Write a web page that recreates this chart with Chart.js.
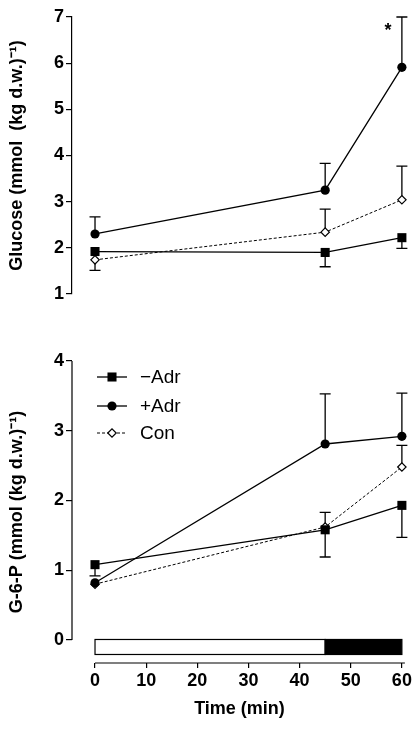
<!DOCTYPE html>
<html>
<head>
<meta charset="utf-8">
<script src="https://cdn.jsdelivr.net/npm/chart.js@4.4.1/dist/chart.umd.min.js"></script>
<style>
  html, body { margin: 0; padding: 0; background: #fff; }
  #wrap { position: relative; width: 415px; height: 729px; }
  .box { position: absolute; left: 0; width: 415px; }
</style>
</head>
<body>
<div id="wrap">
  <div class="box" style="top:0;height:310px"><canvas id="glucoseChart"></canvas></div>
  <div class="box" style="top:320px;height:409px"><canvas id="g6pChart"></canvas></div>
</div>
<script>
// --- data ---
const times = [0, 45, 60];
const timeTicks = [0, 10, 20, 30, 40, 50, 60];
const glucoseTicks = [1, 2, 3, 4, 5, 6, 7];
const g6pTicks = [0, 1, 2, 3, 4];

// glucose, mmol (kg d.w.)-1
const glucoseMinusAdr = [1.92, 1.90, 2.22];
const glucosePlusAdr = [2.30, 3.25, 5.91];
const glucoseCon = [1.74, 2.34, 3.04];
// SEM; positive = bar drawn up, negative = drawn down
const glucoseMinusAdrSem = [0, -0.31, -0.23];
const glucosePlusAdrSem = [0.37, 0.58, 1.09];
const glucoseConSem = [-0.23, 0.50, 0.73];

// G-6-P, mmol (kg d.w.)-1
const g6pMinusAdr = [1.08, 1.58, 1.93];
const g6pPlusAdr = [0.82, 2.81, 2.92];
const g6pCon = [0.80, 1.62, 2.48];
const g6pMinusAdrSem = [-0.16, -0.39, -0.46];
const g6pPlusAdrSem = [0, 0.72, 0.62];
const g6pConSem = [0, 0.21, 0.31];

// significance marker on glucose panel (time, value)
const glucoseStar = [57.3, 6.76];
// protocol bar: rest period then adrenaline/exercise period
const periodEdges = [0, 45, 60];

const INK = '#000';
const tickFont = { family: "'Liberation Sans', Arial, sans-serif", size: 18, weight: 'bold' };
const titleFont = { family: "'Liberation Sans', Arial, sans-serif", size: 18, weight: 'bold' };

function toPoints(ys) {
    return ys.map((y, i) => ({ x: times[i], y: y }));
}

function makeDatasets(minus, plus, con, minusSem, plusSem, conSem) {
    return [
        {
            label: '\u2212Adr', data: toPoints(minus), sem: minusSem,
            borderColor: INK, backgroundColor: INK, borderWidth: 1.3,
            pointStyle: 'rect', pointRadius: 6.4, pointBackgroundColor: INK, pointBorderWidth: 0
        },
        {
            label: '+Adr', data: toPoints(plus), sem: plusSem,
            borderColor: INK, backgroundColor: INK, borderWidth: 1.3,
            pointStyle: 'circle', pointRadius: 4.6, pointBackgroundColor: INK, pointBorderWidth: 0
        },
        {
            label: 'Con', data: toPoints(con), sem: conSem,
            borderColor: INK, backgroundColor: '#fff', borderWidth: 1, borderDash: [3, 2],
            pointStyle: 'rectRot', pointRadius: 4.2, pointBackgroundColor: '#fff',
            pointBorderColor: INK, pointBorderWidth: 1.2
        }
    ];
}

// error bars (one-sided), drawn under the markers
const errorBars = {
    id: 'errorBars',
    beforeDatasetsDraw(chart) {
        const ctx = chart.ctx;
        const xs = chart.scales.x, ys = chart.scales.y;
        ctx.save();
        ctx.strokeStyle = INK;
        ctx.lineWidth = 1.3;
        chart.data.datasets.forEach(ds => {
            ds.data.forEach((p, i) => {
                const s = ds.sem[i];
                if (!s) return;
                const x = xs.getPixelForValue(p.x);
                const y0 = ys.getPixelForValue(p.y);
                const y1 = ys.getPixelForValue(p.y + s);
                ctx.beginPath();
                ctx.moveTo(x, y0); ctx.lineTo(x, y1);
                ctx.moveTo(x - 5.5, y1); ctx.lineTo(x + 5.5, y1);
                ctx.stroke();
            });
        });
        ctx.restore();
    }
};

function drawMarker(ctx, ds, x, y) {
    const r = ds.pointRadius;
    ctx.beginPath();
    if (ds.pointStyle === 'rect') {
        const h = Math.SQRT1_2 * r;
        ctx.rect(x - h, y - h, 2 * h, 2 * h);
    } else if (ds.pointStyle === 'circle') {
        ctx.arc(x, y, r, 0, Math.PI * 2);
    } else {
        ctx.moveTo(x - r, y); ctx.lineTo(x, y - r);
        ctx.lineTo(x + r, y); ctx.lineTo(x, y + r);
        ctx.closePath();
    }
    ctx.fillStyle = ds.pointBackgroundColor;
    ctx.fill();
    if (ds.pointBorderWidth) {
        ctx.setLineDash([]);
        ctx.lineWidth = ds.pointBorderWidth;
        ctx.strokeStyle = INK;
        ctx.stroke();
    }
}

const innerLegend = {
    id: 'innerLegend',
    afterDraw(chart) {
        const ctx = chart.ctx;
        const x0 = 97, x1 = 127, tx = 140;
        const rows = [57, 86, 113];
        ctx.save();
        ctx.font = "19px 'Liberation Sans', Arial, sans-serif";
        ctx.textBaseline = 'middle';
        chart.data.datasets.forEach((ds, i) => {
            const y = rows[i];
            ctx.strokeStyle = INK;
            ctx.lineWidth = ds.borderWidth;
            ctx.setLineDash(ds.borderDash || []);
            ctx.beginPath();
            ctx.moveTo(x0, y); ctx.lineTo(x1, y);
            ctx.stroke();
            drawMarker(ctx, ds, (x0 + x1) / 2, y);
            ctx.fillStyle = INK;
            ctx.fillText(ds.label, tx, y + 1);
        });
        ctx.restore();
    }
};

// protocol bar under the G-6-P panel + axis lines limited to the data range
const protocolBar = {
    id: 'protocolBar',
    beforeDatasetsDraw(chart) {
        const ctx = chart.ctx;
        const xs = chart.scales.x, ys = chart.scales.y;
        const top = ys.getPixelForValue(0) - 0.5;
        const h = 15;
        ctx.save();
        ctx.lineWidth = 1.2;
        ctx.strokeStyle = INK;
        for (let i = 0; i < periodEdges.length - 1; i++) {
            const a = xs.getPixelForValue(periodEdges[i]);
            const b = xs.getPixelForValue(periodEdges[i + 1]);
            ctx.fillStyle = i === 0 ? '#fff' : INK;
            ctx.fillRect(a, top, b - a, h);
            ctx.strokeRect(a, top, b - a, h);
        }
        // y axis line 0..4
        const ax = chart.chartArea.left;
        ctx.beginPath();
        ctx.moveTo(ax, ys.getPixelForValue(g6pTicks[0]));
        ctx.lineTo(ax, ys.getPixelForValue(g6pTicks[g6pTicks.length - 1]));
        // x axis line 0..60
        const by = chart.chartArea.bottom;
        ctx.moveTo(xs.getPixelForValue(timeTicks[0]), by);
        ctx.lineTo(xs.getPixelForValue(timeTicks[timeTicks.length - 1]) + 3, by);
        ctx.stroke();
        ctx.restore();
    }
};

const starMark = {
    id: 'starMark',
    afterDraw(chart) {
        const ctx = chart.ctx;
        ctx.save();
        ctx.fillStyle = INK;
        ctx.font = "bold 18px 'Liberation Sans', Arial, sans-serif";
        ctx.textAlign = 'center';
        ctx.textBaseline = 'middle';
        ctx.fillText('*', chart.scales.x.getPixelForValue(glucoseStar[0]), chart.scales.y.getPixelForValue(glucoseStar[1]) + 3);
        ctx.restore();
    }
};

function yScale(min, max, tickValues, title, showBorder) {
    return {
        type: 'linear', min: min, max: max,
        afterBuildTicks: s => { s.ticks = tickValues.map(v => ({ value: v })); },
        afterFit: s => { s.width = 72; },
        border: { display: showBorder, color: INK, width: 1.2 },
        grid: { drawOnChartArea: false, drawTicks: true, tickLength: 6, color: INK, lineWidth: 1.2 },
        ticks: { color: INK, font: tickFont, padding: 2 },
        title: { display: true, text: title, color: INK, font: titleFont, padding: { top: 6, bottom: 0 } }
    };
}

// --- top panel: glucose ---
new Chart(document.getElementById('glucoseChart'), {
    type: 'line',
    data: { datasets: makeDatasets(glucoseMinusAdr, glucosePlusAdr, glucoseCon, glucoseMinusAdrSem, glucosePlusAdrSem, glucoseConSem) },
    options: {
        responsive: true,
        maintainAspectRatio: false,
        animation: false,
        layout: { padding: { top: 17, bottom: 16, left: 0, right: 8 } },
        plugins: { legend: { display: false }, tooltip: { enabled: false } },
        elements: { line: { tension: 0 } },
        scales: {
            x: { type: 'linear', min: -4.5, max: 61, display: false },
            y: yScale(1, 7, glucoseTicks, 'Glucose (mmol  (kg d.w.)\u207B\u00B9)', true)
        }
    },
    plugins: [errorBars, starMark]
});

// --- bottom panel: G-6-P ---
new Chart(document.getElementById('g6pChart'), {
    type: 'line',
    data: { datasets: makeDatasets(g6pMinusAdr, g6pPlusAdr, g6pCon, g6pMinusAdrSem, g6pPlusAdrSem, g6pConSem) },
    options: {
        responsive: true,
        maintainAspectRatio: false,
        animation: false,
        layout: { padding: { top: 41, bottom: 0, left: 0, right: 8 } },
        plugins: { legend: { display: false }, tooltip: { enabled: false } },
        elements: { line: { tension: 0 } },
        scales: {
            x: {
                type: 'linear', min: -4.5, max: 61,
                afterBuildTicks: s => { s.ticks = timeTicks.map(v => ({ value: v })); },
                afterFit: s => { s.height = 66; },
                border: { display: false },
                grid: { drawOnChartArea: false, drawTicks: true, tickLength: 5, color: INK, lineWidth: 1.2 },
                ticks: { color: INK, font: tickFont, padding: 2, maxRotation: 0 },
                title: { display: true, text: 'Time (min)', color: INK, font: titleFont, padding: { top: 4, bottom: 9 } }
            },
            y: yScale(-0.33, 4, g6pTicks, 'G-6-P (mmol (kg d.w.)\u207B\u00B9)', false)
        }
    },
    plugins: [errorBars, protocolBar, innerLegend]
});
</script>
</body>
</html>
